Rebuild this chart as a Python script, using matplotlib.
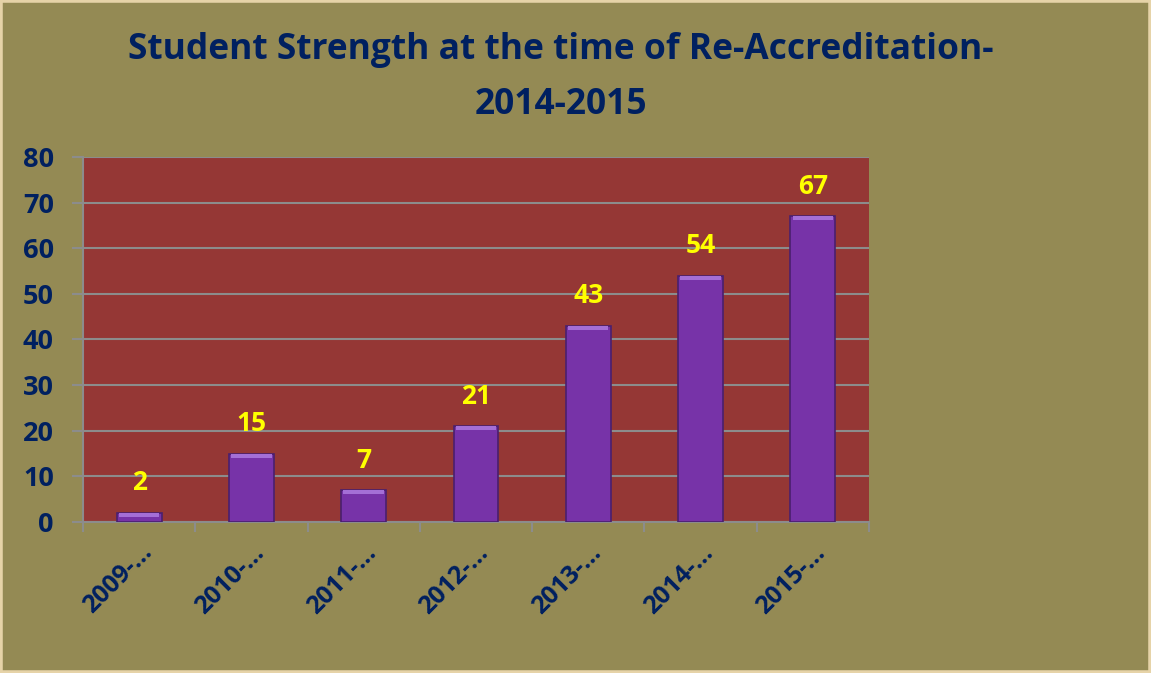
import numpy as np
import matplotlib.pyplot as plt
from matplotlib.patches import Rectangle

## Chart data
years = ["2009-\u2026", "2010-\u2026", "2011-\u2026", "2012-\u2026", "2013-\u2026", "2014-\u2026", "2015-\u2026"]
students = [2, 15, 7, 21, 43, 54, 67]
y_ticks = [0, 10, 20, 30, 40, 50, 60, 70, 80]

## Colours
fig_bg = "#948A54"
plot_bg = "#953735"
bar_face = "#7733A8"
bar_edge = "#4A1F6E"
bar_top = "#A46FD6"
navy = "#002060"
grid_col = "#8C8C8C"

plt.rcParams['font.family'] = ['Open Sans', 'DejaVu Sans']

fig = plt.figure(figsize=(11.51, 6.73), dpi=100, facecolor=fig_bg)
fig.patches.append(Rectangle((0, 0), 1, 1, transform=fig.transFigure,
                             fill=False, edgecolor="#E6D3A8", linewidth=4))

ax = fig.add_axes([0.0721, 0.2244, 0.6829, 0.5423])
ax.set_facecolor(plot_bg)

x = np.arange(len(years))
ax.bar(x, students, width=0.4, color=bar_face, edgecolor=bar_edge, linewidth=1.2, zorder=3)
# lighter bevel strip at the top of each bar
ax.bar(x, [0.9] * len(x), bottom=[v - 0.9 for v in students], width=0.36,
       color=bar_top, linewidth=0, zorder=4)

for xi, v in zip(x, students):
    ax.text(xi, v + 3.6, str(v), ha="center", va="bottom", color="#FFFF00",
            fontsize=19, fontweight="bold", zorder=5)

ax.set_xlim(-0.5, len(years) - 0.5)
ax.set_ylim(0, 80)
ax.set_yticks(y_ticks)
ax.set_yticklabels([str(t) for t in y_ticks], fontsize=19.5, fontweight="bold", color=navy)
ax.yaxis.grid(True, color=grid_col, linewidth=1.5, zorder=1)
ax.set_axisbelow(True)

ax.set_xticks(x)
ax.set_xticklabels(years, rotation=45, ha="right", rotation_mode="anchor",
                   fontsize=18, fontweight="bold", color=navy)
ax.set_xticks(np.arange(-0.5, len(years), 1.0), minor=True)
ax.tick_params(axis="x", which="major", length=0, pad=13)
ax.tick_params(axis="x", which="minor", length=7, color=grid_col, width=1.5)
ax.tick_params(axis="y", length=8, color=grid_col, width=1.5, pad=13)

for side in ["top", "right"]:
    ax.spines[side].set_visible(False)
for side in ["left", "bottom"]:
    ax.spines[side].set_color(grid_col)
    ax.spines[side].set_linewidth(1.5)

fig.text(0.487, 0.952, "Student Strength at the time of Re-Accreditation-\n2014-2015",
         ha="center", va="top", fontsize=25.5, fontweight="bold", color=navy,
         linespacing=1.7)

fig.savefig("out.png", dpi=100, facecolor=fig_bg)
